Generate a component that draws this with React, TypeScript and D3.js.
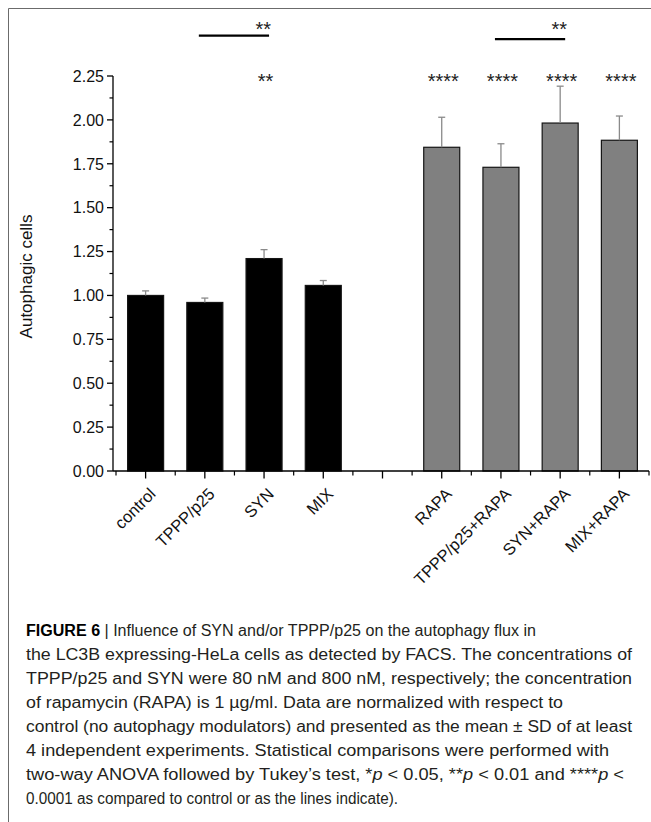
import { useEffect, useRef } from "react";
import * as d3 from "d3";

// bar data
const categories = ["control", "TPPP/p25", "SYN", "MIX", "RAPA", "TPPP/p25+RAPA", "SYN+RAPA", "MIX+RAPA"];
const means = [1.0, 0.96, 1.21, 1.057, 1.844, 1.73, 1.982, 1.884];
const sds = [0.026, 0.025, 0.051, 0.028, 0.171, 0.134, 0.21, 0.138];
const treatment = ["none", "none", "none", "none", "rapa", "rapa", "rapa", "rapa"];
const sigVsControl = ["", "", "**", "", "****", "****", "****", "****"];

// x slots: an empty slot separates the two groups
const slots = [...categories.slice(0, 4), "", ...categories.slice(4)];

// comparison lines at the top: [from, to, label, height]
const brackets: [string, string, string, number][] = [
  ["TPPP/p25", "SYN", "**", 2.48],
  ["TPPP/p25+RAPA", "SYN+RAPA", "**", 2.46],
];

const yTicks = [0, 0.25, 0.5, 0.75, 1.0, 1.25, 1.5, 1.75, 2.0, 2.25];

const captionLines = [
  "| Influence of SYN and/or TPPP/p25 on the autophagy flux in",
  "the LC3B expressing-HeLa cells as detected by FACS. The concentrations of",
  "TPPP/p25 and SYN were 80 nM and 800 nM, respectively; the concentration",
  "of rapamycin (RAPA) is 1 µg/ml. Data are normalized with respect to",
  "control (no autophagy modulators) and presented as the mean ± SD of at least",
  "4 independent experiments. Statistical comparisons were performed with",
  "two-way ANOVA followed by Tukey’s test, *p < 0.05, **p < 0.01 and ****p <",
  "0.0001 as compared to control or as the lines indicate).",
];
const captionWidths = [510, 606, 606, 537, 606, 583, 598, 372];

const FONT = "'Liberation Sans', Arial, Helvetica, sans-serif";

export default function App() {
  const svgRef = useRef<SVGSVGElement>(null);

  useEffect(() => {
    const svg = d3.select(svgRef.current);
    svg.selectAll("*").remove();

    const x = d3.scalePoint<string>().domain(slots.map((s, i) => s || `gap${i}`)).range([116, 649]).padding(0.5);
    const y = d3.scaleLinear().domain([0, 2.25]).range([471, 76]);
    const step = x.step();
    const barW = 36;
    const x0 = 113;
    const xEnd = 649;

    // frame
    svg.append("line").attr("x1", 8.5).attr("x2", 651).attr("y1", 8.5).attr("y2", 8.5).attr("stroke", "#6b6b6b");
    svg.append("line").attr("x1", 8.5).attr("x2", 8.5).attr("y1", 8.5).attr("y2", 822).attr("stroke", "#6b6b6b");

    const g = svg.append("g");

    // bars
    g.selectAll("rect.bar")
      .data(categories)
      .enter()
      .append("rect")
      .attr("class", "bar")
      .attr("x", (d) => (x(d) as number) - barW / 2)
      .attr("width", barW)
      .attr("y", (d, i) => y(means[i]))
      .attr("height", (d, i) => y(0) - y(means[i]))
      .attr("fill", (d, i) => (treatment[i] === "none" ? "#000" : "#808080"))
      .attr("stroke", "#151515")
      .attr("stroke-width", 1.2);

    // error bars (upper only)
    const err = g.selectAll("g.err").data(categories).enter().append("g");
    err.append("line")
      .attr("x1", (d) => x(d) as number)
      .attr("x2", (d) => x(d) as number)
      .attr("y1", (d, i) => y(means[i]))
      .attr("y2", (d, i) => y(means[i] + sds[i]))
      .attr("stroke", "#8a8a8a")
      .attr("stroke-width", 1.3);
    err.append("line")
      .attr("x1", (d) => (x(d) as number) - 3.5)
      .attr("x2", (d) => (x(d) as number) + 3.5)
      .attr("y1", (d, i) => y(means[i] + sds[i]))
      .attr("y2", (d, i) => y(means[i] + sds[i]))
      .attr("stroke", "#8a8a8a")
      .attr("stroke-width", 1.3);

    // y axis
    g.append("line").attr("x1", x0).attr("x2", x0).attr("y1", y(2.25)).attr("y2", y(0)).attr("stroke", "#000").attr("stroke-width", 1.3);
    const minorY = d3.range(0.125, 2.25, 0.25);
    g.selectAll("line.ymaj").data(yTicks).enter().append("line")
      .attr("x1", x0 - 6).attr("x2", x0).attr("y1", (d) => y(d)).attr("y2", (d) => y(d))
      .attr("stroke", "#000").attr("stroke-width", 1.3);
    g.selectAll("line.ymin").data(minorY).enter().append("line")
      .attr("x1", x0 - 3.5).attr("x2", x0).attr("y1", (d) => y(d)).attr("y2", (d) => y(d))
      .attr("stroke", "#000").attr("stroke-width", 1.2);
    g.selectAll("text.ytick").data(yTicks).enter().append("text")
      .attr("x", 104).attr("y", (d) => y(d)).attr("dy", "0.36em")
      .attr("text-anchor", "end").attr("font-family", FONT).attr("font-size", 16)
      .attr("fill", "#111").text((d) => d3.format(".2f")(d));

    g.append("text")
      .attr("transform", `translate(32,${(y(0) + y(2.25)) / 2 + 3}) rotate(-90)`)
      .attr("text-anchor", "middle").attr("font-family", FONT).attr("font-size", 17)
      .attr("fill", "#111").text("Autophagic cells");

    // x axis
    g.append("line").attr("x1", x0).attr("x2", xEnd).attr("y1", y(0)).attr("y2", y(0)).attr("stroke", "#000").attr("stroke-width", 1.3);
    g.selectAll("line.xmaj").data(x.domain()).enter().append("line")
      .attr("x1", (d) => x(d) as number).attr("x2", (d) => x(d) as number)
      .attr("y1", y(0)).attr("y2", y(0) + 7.5)
      .attr("stroke", "#000").attr("stroke-width", 1.3);
    g.selectAll("line.xmin").data(x.domain()).enter().append("line")
      .attr("x1", (d) => (x(d) as number) + step / 2).attr("x2", (d) => (x(d) as number) + step / 2)
      .attr("y1", y(0)).attr("y2", y(0) + 4.5)
      .attr("stroke", "#000").attr("stroke-width", 1.2);
    g.append("line").attr("x1", 116).attr("x2", 116).attr("y1", y(0)).attr("y2", y(0) + 4.5).attr("stroke", "#000").attr("stroke-width", 1.2);

    g.selectAll("text.xlab").data(categories).enter().append("text")
      .attr("transform", (d) => `translate(${(x(d) as number) + 11},${y(0) + 24}) rotate(-45)`)
      .attr("text-anchor", "end").attr("font-family", FONT).attr("font-size", 16.5)
      .attr("fill", "#111").text((d) => d);

    // significance vs control
    g.selectAll("text.sig").data(categories).enter().append("text")
      .attr("x", (d) => (x(d) as number) + 1.5).attr("y", 88)
      .attr("text-anchor", "middle").attr("font-family", FONT).attr("font-size", 20)
      .attr("fill", "#222").text((d, i) => sigVsControl[i]);

    // comparison lines
    const labelY = y(d3.max(brackets, (b) => b[3]) as number);
    brackets.forEach(([a, b, label, h]) => {
      const xa = (x(a) as number) - 6;
      const xb = (x(b) as number) + 5;
      g.append("line").attr("x1", xa).attr("x2", xb).attr("y1", y(h)).attr("y2", y(h))
        .attr("stroke", "#000").attr("stroke-width", 2.2);
      g.append("text").attr("x", xb + 2).attr("y", labelY)
        .attr("text-anchor", "end").attr("font-family", FONT).attr("font-size", 20)
        .attr("fill", "#222").text(label);
    });

    // caption
    const cap = svg.append("g").attr("font-family", FONT).attr("font-size", 16).attr("fill", "#231f20");
    captionLines.forEach((line, i) => {
      const t = cap.append("text").attr("x", 26).attr("y", 636 + i * 24)
        .attr("textLength", captionWidths[i]).attr("lengthAdjust", "spacingAndGlyphs");
      if (i === 0) {
        t.append("tspan").attr("font-weight", "bold").attr("fill", "#000").text("FIGURE 6 ");
        t.append("tspan").text(line);
      } else if (i === 6) {
        const parts = line.split(/(p)(?= <)/);
        parts.forEach((p) => {
          const s = t.append("tspan").text(p);
          if (p === "p") s.attr("font-style", "italic");
        });
      } else {
        t.text(line);
      }
    });
  }, []);

  return (
    <svg
      ref={svgRef}
      width={651}
      height={822}
      style={{ position: "absolute", left: 0, top: 0, display: "block", background: "#fff" }}
    />
  );
}
